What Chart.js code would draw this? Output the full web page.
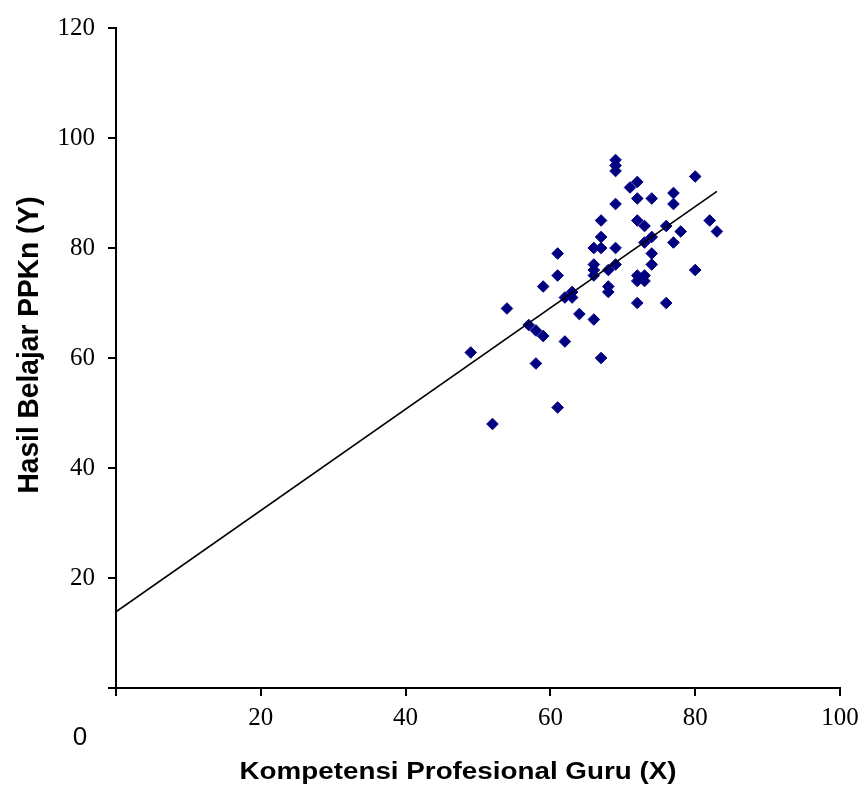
<!DOCTYPE html>
<html>
<head>
<meta charset="utf-8">
<script src="https://cdn.jsdelivr.net/npm/chart.js@4/dist/chart.umd.min.js"></script>
<style>
  html, body { margin: 0; padding: 0; background: #fff; }
  #wrap { width: 866px; height: 792px; position: relative; }
</style>
</head>
<body>
<div id="wrap"><canvas id="c"></canvas></div>
<script>
// ---- data ----
const xValues = [49,52,54,57,58,58,59,59,61,61,61,62,62,63,63,64,66,66,66,66,66,67,67,67,67,68,68,68,69,69,69,69,69,69,71,72,72,72,72,72,72,73,73,73,73,74,74,74,74,76,76,77,77,77,78,80,80,82,83];
const yValues = [61,48,69,66,65,59,64,73,79,75,51,71,63,72,71,68,67,77,76,75,80,80,85,82,60,76,73,72,96,95,94,88,80,77,91,92,89,85,75,74,70,84,81,75,74,89,82,79,77,84,70,90,88,81,83,93,76,85,83];
const trendX = [0, 83];
const trendY = [13.85, 90.3];
const xTicks = [0, 20, 40, 60, 80, 100];
const yTicks = [0, 20, 40, 60, 80, 100, 120];
const xTitle = 'Kompetensi Profesional Guru (X)';
const yTitle = 'Hasil Belajar PPKn (Y)';
const originLabel = '0';

const points = xValues.map((x, i) => ({ x: x, y: yValues[i] }));
const trend = trendX.map((x, i) => ({ x: x, y: trendY[i] }));

const serif = '"Liberation Serif", "Times New Roman", serif';
const sans = '"Liberation Sans", Arial, sans-serif';

const textPlugin = {
  id: 'extraTexts',
  afterDraw(chart) {
    const ctx = chart.ctx;
    const a = chart.chartArea;
    // x axis title (stretched horizontally like the reference)
    ctx.save();
    ctx.fillStyle = '#000';
    ctx.font = 'bold 23px ' + sans;
    ctx.textAlign = 'center';
    ctx.textBaseline = 'alphabetic';
    let w = ctx.measureText(xTitle).width;
    ctx.translate(a.left + 342, a.bottom + 91);
    ctx.scale(437 / w, 1);
    ctx.fillText(xTitle, 0, 0);
    ctx.restore();
    // y axis title
    ctx.save();
    ctx.fillStyle = '#000';
    ctx.font = 'bold 30px ' + sans;
    ctx.textAlign = 'center';
    ctx.textBaseline = 'alphabetic';
    w = ctx.measureText(yTitle).width;
    ctx.translate(a.left - 78, a.top + 317);
    ctx.rotate(-Math.PI / 2);
    ctx.scale(297 / w, 1);
    ctx.fillText(yTitle, 0, 0);
    ctx.restore();
    // stray origin label
    ctx.save();
    ctx.fillStyle = '#000';
    ctx.font = '26px ' + sans;
    ctx.textAlign = 'center';
    ctx.textBaseline = 'middle';
    ctx.fillText(originLabel, a.left - 36, a.bottom + 50);
    ctx.restore();
  }
};

new Chart(document.getElementById('c'), {
  type: 'scatter',
  data: {
    datasets: [
      {
        label: 'Data',
        data: points,
        pointStyle: 'rectRot',
        pointRadius: 5.8,
        pointBackgroundColor: '#000080',
        pointBorderColor: '#000080',
        pointBorderWidth: 1,
        showLine: false,
        order: 1
      },
      {
        label: 'Trend',
        type: 'line',
        data: trend,
        borderColor: '#000',
        borderWidth: 1.6,
        pointRadius: 0,
        fill: false,
        tension: 0,
        order: 0
      }
    ]
  },
  options: {
    responsive: true,
    maintainAspectRatio: false,
    animation: false,
    layout: { padding: { top: 23, right: 26, left: 0, bottom: 0 } },
    plugins: { legend: { display: false }, tooltip: { enabled: false } },
    scales: {
      x: {
        type: 'linear',
        min: 0, max: 100,
        afterBuildTicks: s => { s.ticks = xTicks.map(v => ({ value: v })); },
        afterFit: s => { s.height = 104; },
        grid: { drawOnChartArea: false, drawTicks: true, tickLength: 8, color: '#000', lineWidth: 2 },
        border: { display: true, color: '#000', width: 2 },
        ticks: {
          color: '#000', padding: 7,
          font: { family: serif, size: 25 },
          callback: v => (v === 0 ? '' : String(v))
        }
      },
      y: {
        type: 'linear',
        min: 0, max: 120,
        afterBuildTicks: s => { s.ticks = yTicks.map(v => ({ value: v })); },
        afterFit: s => { s.width = 116; },
        grid: { drawOnChartArea: false, drawTicks: true, tickLength: 8, color: '#000', lineWidth: 2 },
        border: { display: true, color: '#000', width: 2 },
        ticks: {
          color: '#000', padding: 13,
          font: { family: serif, size: 25 },
          callback: v => (v === 0 ? '' : String(v))
        }
      }
    }
  },
  plugins: [textPlugin]
});
</script>
</body>
</html>
